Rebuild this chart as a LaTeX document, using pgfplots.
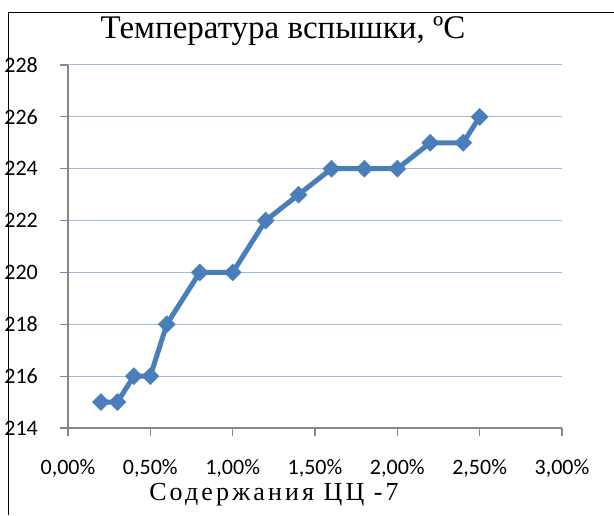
\documentclass[border=0pt]{standalone}
\usepackage{fontspec}
\setmainfont{Liberation Serif}
\newfontfamily\calibri{Carlito}
\newfontfamily\spaced[LetterSpace=12]{Liberation Serif}
\usepackage{pgfplots}
\pgfplotsset{compat=1.18}
\definecolor{serieblue}{HTML}{4A7EBB}
\definecolor{gridblue}{HTML}{9DB9E0}
\definecolor{axisgray}{HTML}{868686}
\begin{document}
\begin{tikzpicture}[x=1pt,y=1pt]
\path[use as bounding box] (0,0) rectangle (614,515);
\draw[black, line width=1.5pt] (8.5,0) -- (8.5,502.5) -- (614,502.5);
\node[anchor=center, font=\fontsize{33}{36}\selectfont] at (283,484) {Температура вспышки, ºC};
\node[anchor=center, font=\spaced\fontsize{26}{28}\selectfont] at (274,20) {Содержания ЦЦ -7};
\begin{axis}[
  at={(68pt,87pt)}, anchor=origin,
  scale only axis, width=494pt, height=363pt,
  xmin=0, xmax=3, ymin=214, ymax=228,
  xtick={0,0.5,...,3}, ytick={214,216,...,228},
  xticklabels={{0,00\%},{0,50\%},{1,00\%},{1,50\%},{2,00\%},{2,50\%},{3,00\%}},
  axis lines*=left,
  axis line style={axisgray, line width=1.2pt, -},
  tick style={axisgray, line width=1.2pt},
  tick align=outside, major tick length=8pt,
  ymajorgrids, grid style={gridblue, line width=1pt},
  ticklabel style={font=\calibri\fontsize{22}{24}\selectfont},
  /pgf/number format/assume math mode=true,
  yticklabel style={anchor=east, inner sep=0pt, xshift=-22pt},
  xticklabel style={anchor=north, inner sep=0pt, yshift=-23pt},
  clip=false,
]
\addplot[serieblue, line width=5pt, mark=square*, mark size=6pt,
  mark options={serieblue, line width=0.5pt, rotate=45}] coordinates {
  (0.2,215) (0.3,215) (0.4,216) (0.5,216) (0.6,218) (0.8,220) (1.0,220)
  (1.2,222) (1.4,223) (1.6,224) (1.8,224) (2.0,224) (2.2,225) (2.4,225) (2.5,226)
};
\end{axis}
\end{tikzpicture}
\end{document}
